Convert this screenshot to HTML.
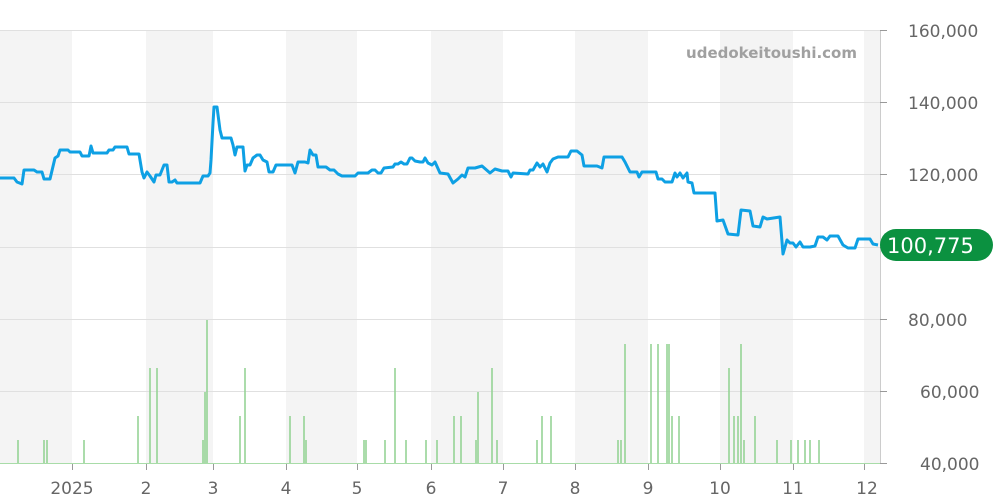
<!DOCTYPE html>
<html><head><meta charset="utf-8"><style>body{margin:0;background:#fff}svg{display:block}text{font-family:"DejaVu Sans","Liberation Sans",sans-serif}</style></head><body>
<svg width="1000" height="500" xmlns="http://www.w3.org/2000/svg">
<g fill="#f4f4f4">
<rect x="0" y="30" width="72" height="434"/><rect x="146" y="30" width="67" height="434"/><rect x="286" y="30" width="71" height="434"/><rect x="431" y="30" width="72" height="434"/><rect x="575" y="30" width="73" height="434"/><rect x="720" y="30" width="73" height="434"/><rect x="864" y="30" width="16" height="434"/>
</g>
<g stroke="#e0e0e0" stroke-width="1">
<line x1="0" y1="30.5" x2="880" y2="30.5"/><line x1="0" y1="102.5" x2="880" y2="102.5"/><line x1="0" y1="174.5" x2="880" y2="174.5"/><line x1="0" y1="247.5" x2="880" y2="247.5"/><line x1="0" y1="319.5" x2="880" y2="319.5"/><line x1="0" y1="391.5" x2="880" y2="391.5"/>
</g>
<line x1="880.5" y1="30" x2="880.5" y2="464" stroke="#ccc"/>
<g stroke="#999"><line x1="880" y1="30.5" x2="887" y2="30.5"/><line x1="880" y1="102.5" x2="887" y2="102.5"/><line x1="880" y1="174.5" x2="887" y2="174.5"/><line x1="880" y1="247.5" x2="887" y2="247.5"/><line x1="880" y1="319.5" x2="887" y2="319.5"/><line x1="880" y1="391.5" x2="887" y2="391.5"/><line x1="880" y1="463.5" x2="887" y2="463.5"/></g>
<g stroke="#8fd18f" stroke-width="1.5">
<path d="M18 464V440M44 464V440M47 464V440M84 464V440M138 464V416M150 464V368M157 464V368M203 464V440M205 464V392M207 464V320M240 464V416M245 464V368M290 464V416M304 464V416M306 464V440M364 464V440M366 464V440M385 464V440M395 464V368M406 464V440M426 464V440M437 464V440M454 464V416M461 464V416M476 464V440M478 464V392M492 464V368M497 464V440M537 464V440M542 464V416M551 464V416M618 464V440M621 464V440M625 464V344M651 464V344M658 464V344M667 464V344M669 464V344M672 464V416M679 464V416M729 464V368M734 464V416M738 464V416M741 464V344M744 464V440M755 464V416M777 464V440M791 464V440M798 464V440M805 464V440M810 464V440M819 464V440"/>
</g>
<line x1="0" y1="463.5" x2="880" y2="463.5" stroke="#a8dca8" stroke-width="1"/>
<polyline fill="none" stroke="#0ea0e4" stroke-width="3" stroke-linejoin="round" points="0,178 14,178 17,182 22,184 24,170 34,170 37,172 42,172 44,179 50,179 55,158 58,156 60,150 68,150 70,152 80,152 82,156 89,156 91,146 93,153 107,153 109,150 113,150 115,147 127,147 129,154 139,154 142,172 144,178 147,172 150,176 154,182 156,175 160,175 164,165 167,165 169,182 172,182 175,180 177,183 200,183 203,176 208,176 210,173 211,160 213,123 214,107 217,107 220,130 222,138 231,138 233,145 235,155 237,147 243,147 245,171 247,165 250,165 253,158 257,155 260,155 263,160 267,162 269,172 273,172 276,165 292,165 295,173 298,162 305,162 308,163 310,150 313,155 316,155 318,167 326,167 330,170 334,170 338,174 342,176 355,176 358,173 368,173 372,170 375,170 378,173 381,173 384,168 393,167 395,164 398,164 401,162 404,164 407,164 410,158 412,158 415,161 420,162 423,162 425,158 428,163 432,165 435,162 440,173 448,174 453,183 458,179 462,175 465,177 468,168 475,168 482,166 490,173 495,169 502,171 508,171 511,177 513,173 528,174 530,170 533,170 537,163 540,167 543,164 547,172 550,163 553,159 558,157 568,157 571,151 577,151 582,155 584,166 597,166 602,168 604,157 622,157 625,162 630,172 637,172 639,177 642,172 656,172 658,179 662,179 665,182 672,182 675,173 677,177 680,173 683,178 687,173 688,182 692,183 694,193 715,193 717,221 723,220 728,234 738,235 741,210 750,211 753,226 760,227 763,217 767,219 780,217 783,254 787,240 790,243 793,243 796,247 800,242 803,247 810,247 815,246 818,237 823,237 827,240 830,236 838,236 843,245 848,248 855,248 858,239 870,239 873,244 878,245"/>
<g fill="#666" font-size="17">
<text x="908" y="37">160,000</text><text x="908" y="109">140,000</text><text x="908" y="181">120,000</text><text x="908" y="326">80,000</text><text x="920" y="398">60,000</text><text x="920" y="470">40,000</text>
</g>
<rect x="880" y="229" width="113" height="32" rx="16" fill="#0b9140"/>
<text x="887" y="253" font-size="21" fill="#fff">100,775</text>
<text x="857" y="58" font-size="15" font-weight="bold" fill="#a0a0a0" text-anchor="end">udedokeitoushi.com</text>
<g stroke="#999"><line x1="72.5" y1="464" x2="72.5" y2="470"/><line x1="146.5" y1="464" x2="146.5" y2="470"/><line x1="213.5" y1="464" x2="213.5" y2="470"/><line x1="286.5" y1="464" x2="286.5" y2="470"/><line x1="357.5" y1="464" x2="357.5" y2="470"/><line x1="431.5" y1="464" x2="431.5" y2="470"/><line x1="503.5" y1="464" x2="503.5" y2="470"/><line x1="575.5" y1="464" x2="575.5" y2="470"/><line x1="648.5" y1="464" x2="648.5" y2="470"/><line x1="720.5" y1="464" x2="720.5" y2="470"/><line x1="793.5" y1="464" x2="793.5" y2="470"/><line x1="864.5" y1="464" x2="864.5" y2="470"/></g>
<g fill="#666" font-size="17" text-anchor="middle">
<text x="72" y="494">2025</text><text x="146" y="494">2</text><text x="213" y="494">3</text><text x="286" y="494">4</text><text x="357" y="494">5</text><text x="431" y="494">6</text><text x="503" y="494">7</text><text x="575" y="494">8</text><text x="648" y="494">9</text><text x="720" y="494">10</text><text x="793" y="494">11</text><text x="867" y="494">12</text>
</g>
</svg>
</body></html>
